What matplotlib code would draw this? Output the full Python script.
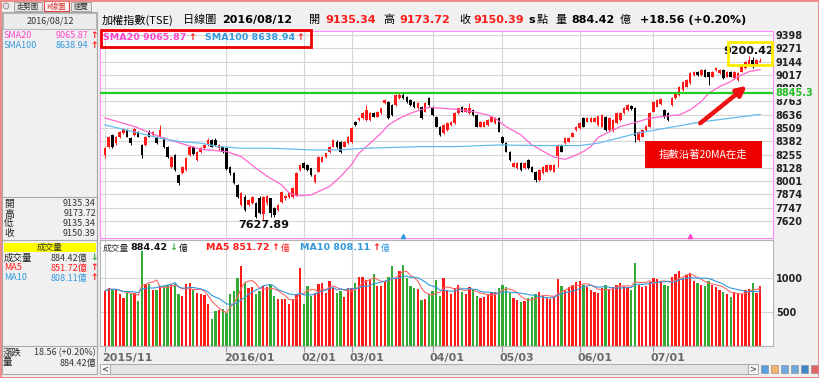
import numpy as np
import pandas as pd
import matplotlib
matplotlib.use("Agg")
import matplotlib.pyplot as plt
import matplotlib.transforms as mtransforms
from matplotlib.patches import Rectangle, FancyArrowPatch

CJK = ['Noto Sans CJK TC', 'DejaVu Sans']
NARROW = ['Liberation Sans Narrow', 'Noto Sans CJK TC', 'DejaVu Sans']
plt.rcParams['font.family'] = ['DejaVu Sans', 'Noto Sans CJK TC']

W, H = 820, 378

# ---- daily candles, 2015/11 .. 2016/08/12 ----
opens = [8252, 8330, 8443, 8364, 8427, 8459, 8491, 8411, 8443, 8475,
         8348, 8348, 8475, 8443, 8427, 8427, 8411, 8332, 8141, 8252,
         8061, 8077, 8109, 8252, 8332, 8205, 8284, 8316, 8348, 8396,
         8396, 8316, 8332, 8316, 8141, 8077, 7966, 7775, 7854, 7775,
         7791, 7791, 7840, 7690, 7790, 7838, 7743, 7727, 7806, 7838,
         7854, 7854, 7870, 8109, 8172, 8156, 8124, 7990, 8093, 8188,
         8236, 8284, 8331, 8380, 8379, 8331, 8363, 8379, 8570, 8586,
         8602, 8590, 8586, 8650, 8618, 8650, 8745, 8761, 8729, 8729,
         8793, 8825, 8809, 8777, 8761, 8697, 8713, 8666, 8793, 8713,
         8618, 8522, 8459, 8491, 8538, 8554, 8650, 8713, 8666, 8650,
         8682, 8634, 8522, 8522, 8538, 8570, 8554, 8602, 8427, 8363,
         8284, 8140, 8124, 8172, 8124, 8204, 8140, 8093, 8013, 8077,
         8093, 8109, 8093, 8240, 8347, 8363, 8379, 8427, 8491, 8506,
         8602, 8570, 8570, 8570, 8540, 8523, 8618, 8491, 8491, 8555,
         8587, 8650, 8682, 8720, 8698, 8396, 8427, 8490, 8523, 8666,
         8714, 8740, 8682, 8650, 8730, 8794, 8825, 8873, 8905, 8937,
         9016, 9048, 9016, 9064, 9040, 9000, 9064, 9032, 9064, 9000,
         9048, 8984, 8969, 9048, 9080, 9112, 9160, 9112, 9135.34]
closes = [8316, 8420, 8332, 8427, 8475, 8497, 8427, 8364, 8497, 8427,
          8252, 8427, 8427, 8475, 8364, 8490, 8332, 8236, 8236, 8109,
          7982, 8141, 8220, 8332, 8260, 8284, 8316, 8348, 8396, 8332,
          8348, 8348, 8284, 8120, 8077, 7982, 7854, 7886, 7727, 7823,
          7854, 7663, 7700, 7850, 7860, 7695, 7680, 7774, 7902, 7860,
          7886, 7934, 8077, 8156, 8124, 8109, 8061, 8061, 8236, 8236,
          8268, 8331, 8395, 8330, 8284, 8379, 8427, 8506, 8538, 8602,
          8650, 8680, 8650, 8618, 8666, 8697, 8777, 8602, 8634, 8825,
          8825, 8793, 8761, 8729, 8713, 8745, 8602, 8745, 8729, 8634,
          8522, 8443, 8538, 8554, 8570, 8650, 8697, 8666, 8697, 8697,
          8634, 8522, 8570, 8570, 8586, 8618, 8602, 8475, 8363, 8284,
          8204, 8172, 8172, 8109, 8172, 8124, 8093, 8013, 8109, 8140,
          8156, 8156, 8156, 8347, 8284, 8411, 8411, 8459, 8522, 8554,
          8522, 8602, 8602, 8602, 8620, 8634, 8491, 8603, 8587, 8650,
          8650, 8698, 8730, 8690, 8430, 8475, 8491, 8530, 8650, 8762,
          8778, 8790, 8618, 8590, 8794, 8841, 8905, 8953, 8969, 9032,
          9048, 9016, 9064, 9000, 9000, 9048, 9080, 9064, 8984, 9048,
          9000, 9048, 9032, 9112, 9144, 9160, 9100, 9160, 9150.39]
highs = [8330, 8430, 8455, 8435, 8485, 8510, 8500, 8420, 8505, 8485,
         8360, 8435, 8490, 8485, 8435, 8539, 8420, 8340, 8245, 8260,
         8070, 8150, 8230, 8340, 8340, 8290, 8325, 8360, 8410, 8405,
         8410, 8355, 8340, 8320, 8150, 8085, 7975, 7895, 7865, 7835,
         7862, 7800, 7860, 7860, 7870, 7845, 7750, 7785, 7910, 7870,
         7895, 7945, 8085, 8165, 8180, 8165, 8130, 8070, 8245, 8245,
         8275, 8340, 8405, 8390, 8385, 8385, 8435, 8515, 8578, 8610,
         8660, 8729, 8660, 8658, 8675, 8705, 8785, 8770, 8737, 8833,
         8850, 8850, 8817, 8785, 8770, 8753, 8720, 8753, 8809, 8720,
         8625, 8530, 8545, 8562, 8578, 8658, 8705, 8721, 8705, 8745,
         8690, 8642, 8578, 8578, 8594, 8626, 8610, 8610, 8435, 8371,
         8292, 8180, 8180, 8180, 8180, 8212, 8148, 8101, 8117, 8148,
         8164, 8164, 8164, 8355, 8355, 8419, 8419, 8467, 8530, 8562,
         8610, 8610, 8610, 8610, 8628, 8642, 8626, 8611, 8595, 8658,
         8658, 8706, 8738, 8728, 8706, 8483, 8499, 8538, 8658, 8770,
         8786, 8798, 8690, 8658, 8802, 8849, 8913, 8961, 8977, 9040,
         9056, 9056, 9072, 9072, 9048, 9056, 9088, 9072, 9072, 9056,
         9056, 9056, 9040, 9120, 9152, 9200.42, 9185, 9168, 9173.72]
lows = [8220, 8320, 8320, 8350, 8415, 8450, 8420, 8350, 8435, 8420,
        8225, 8340, 8420, 8435, 8355, 8420, 8320, 8225, 8130, 8100,
        7966, 8065, 8100, 8245, 8250, 8190, 8275, 8305, 8340, 8325,
        8340, 8300, 8270, 8110, 8060, 7970, 7840, 7760, 7715, 7765,
        7780, 7650, 7690, 7627.89, 7775, 7663, 7663, 7715, 7795, 7825,
        7840, 7845, 7860, 8100, 8115, 8100, 8050, 7981, 8085, 8180,
        8225, 8275, 8325, 8320, 8275, 8325, 8355, 8370, 8530, 8578,
        8595, 8580, 8578, 8610, 8610, 8642, 8738, 8595, 8625, 8720,
        8785, 8785, 8752, 8720, 8705, 8690, 8595, 8658, 8720, 8625,
        8515, 8435, 8450, 8483, 8530, 8546, 8642, 8658, 8658, 8642,
        8626, 8514, 8514, 8514, 8530, 8562, 8546, 8467, 8355, 8276,
        8196, 8132, 8116, 8101, 8116, 8116, 8085, 7997, 8005, 8069,
        8085, 8101, 8085, 8140, 8276, 8355, 8371, 8419, 8483, 8498,
        8514, 8562, 8562, 8562, 8532, 8515, 8483, 8483, 8475, 8547,
        8579, 8642, 8674, 8682, 8380, 8388, 8419, 8482, 8515, 8658,
        8706, 8732, 8603, 8580, 8722, 8786, 8817, 8865, 8897, 8929,
        9008, 9008, 9008, 8992, 8921, 8992, 9056, 9024, 8976, 8992,
        8992, 8976, 8961, 9040, 9072, 9104, 9080, 9104, 9135.34]
volumes = [809, 858, 833, 833, 760, 711, 809, 769, 784, 662,
           1397, 907, 907, 818, 818, 882, 882, 892, 907, 907,
           760, 735, 907, 921, 818, 774, 769, 745, 613, 392,
           515, 524, 539, 490, 769, 809, 995, 1176, 921, 858,
           867, 769, 809, 882, 872, 897, 735, 686, 686, 686,
           622, 686, 760, 1142, 622, 882, 735, 784, 907, 921,
           784, 956, 848, 784, 809, 720, 848, 848, 921, 1014,
           1014, 965, 965, 1063, 882, 882, 956, 1014, 1176, 1005,
           1102, 1191, 1005, 882, 858, 833, 671, 686, 760, 809,
           965, 735, 1005, 820, 760, 850, 900, 800, 760, 870,
           820, 740, 700, 720, 760, 800, 790, 850, 900, 860,
           780, 700, 680, 640, 660, 700, 720, 760, 800, 730,
           700, 690, 720, 980, 880, 820, 860, 900, 940, 960,
           900, 870, 820, 800, 780, 850, 900, 820, 860, 900,
           930, 880, 860, 820, 1220, 900, 860, 880, 940, 1000,
           980, 960, 900, 880, 1020, 1060, 1100, 1000, 1050, 1080,
           960, 920, 900, 880, 960, 900, 860, 820, 800, 760,
           720, 800, 770, 770, 820, 840, 930, 780, 884.42]

# moving averages (day index, value)
sma20_idx = [0, 8, 16, 26, 33, 37, 41, 44, 48, 50, 52, 56, 58, 61, 64, 67, 69,
             72, 75, 77, 80, 83, 86, 88, 91, 96, 100, 104, 106, 109, 113, 116,
             120, 122, 125, 127, 130, 132, 134, 140, 145, 148, 153, 156, 159,
             162, 164, 167, 170, 172, 175, 178]
sma20_val = [8605, 8523, 8411, 8306, 8284, 8236, 8125, 8050, 7965, 7890, 7860,
             7870, 7902, 7950, 8045, 8160, 8268, 8363, 8459, 8538, 8602, 8650,
             8685, 8705, 8700, 8685, 8666, 8634, 8602, 8522, 8443, 8347, 8268,
             8230, 8210, 8236, 8284, 8331, 8420, 8523, 8571, 8603, 8625, 8634,
             8682, 8762, 8841, 8905, 8953, 9000, 9048, 9066]
sma100_idx = [0, 15, 20, 26, 31, 37, 45, 56, 64, 70, 86, 95, 107, 118, 129,
              134, 145, 162, 178]
sma100_val = [8539, 8411, 8380, 8364, 8332, 8316, 8316, 8300, 8300, 8315,
              8331, 8331, 8347, 8341, 8341, 8364, 8462, 8567, 8639]

month_idx = [0, 33, 54, 67, 89, 108, 129, 149]
month_lbl = ['2015/11', '2016/01', '02/01', '03/01', '04/01', '05/03', '06/01', '07/01']
price_ticks = [9398, 9271, 9144, 9017, 8890, 8763, 8636, 8509, 8382, 8255,
               8128, 8001, 7874, 7747, 7620]
vol_ticks = [500, 1000]
support = 8845.3
low_idx, low_val = 43, 7627.89
high_idx, high_val = 175, 9200.42
event_idx = [81, 159]
event_col = ['#3399dd', '#ff44cc']

day_open, day_high, day_low, day_close = 9135.34, 9173.72, 9135.34, 9150.39
day_vol, vol_ma5, vol_ma10 = 884.42, 851.72, 808.11
sma20_last, sma100_last = 9065.87, 8638.94
change, change_pct = 18.56, 0.20

RED = '#ff1a1a'
GREEN = '#33aa33'
PINK = '#ff44cc'
BLUE = '#3399dd'

fig = plt.figure(figsize=(W / 100, H / 100), dpi=100, facecolor='#f0f0f0')
renderer = fig.canvas.get_renderer()


def pax(x0, y0, x1, y1, **kw):
    return fig.add_axes([x0 / W, 1 - y1 / H, (x1 - x0) / W, (y1 - y0) / H], **kw)


bg = fig.add_axes([0, 0, 1, 1], zorder=-5)
bg.set_xlim(0, W); bg.set_ylim(H, 0); bg.axis('off')
ov = fig.add_axes([0, 0, 1, 1], zorder=10)
ov.set_xlim(0, W); ov.set_ylim(H, 0); ov.axis('off')

ax = pax(100, 31, 773, 238)
axv = pax(100, 240, 773, 346)

# ---- price panel ----
x = np.arange(len(closes))
o, hi, lo, c = map(np.array, (opens, highs, lows, closes))
up = c >= o
col = np.where(up, RED, '#000000')
ax.vlines(x, lo, hi, colors=col, lw=0.7, zorder=3)
ax.bar(x, np.maximum(np.abs(c - o), 4), bottom=np.minimum(o, c), width=0.7,
       color=col, lw=0, zorder=4)
ax.plot(sma20_idx, sma20_val, color='#ff66cc', lw=0.9, zorder=5)
ax.plot(sma100_idx, sma100_val, color='#66bbee', lw=0.9, zorder=5)
ax.axhline(support, color='#22cc22', lw=1.6, zorder=6)

xmin, xmax = -1.36, 181.5
ax.set_xlim(xmin, xmax)
ax.set_ylim(7458, 9436)
ax.set_yticks(price_ticks)
ax.set_yticklabels([str(t) for t in price_ticks], fontsize=7, fontweight='bold', color='#222222')
ax.yaxis.tick_right()
ax.tick_params(axis='y', length=0, pad=2)
ax.set_xticks(month_idx)
ax.tick_params(axis='x', length=0, labelbottom=False)
ax.grid(True, color='#d6d6d6', lw=0.8)
ax.set_axisbelow(True)
for s in ax.spines.values():
    s.set_color('#ff88ff')

ytr = mtransforms.blended_transform_factory(ax.transAxes, ax.transData)
ax.text(1.003, support, f'{support}', transform=ytr, color='#22bb22', fontsize=7,
        fontweight='bold', va='center', ha='left',
        bbox=dict(fc='#f0f0f0', ec='none', pad=0.6))
ax.text(low_idx, low_val, f'{low_val:.2f}', ha='center', va='top', fontsize=8,
        fontweight='bold', color='#111111', zorder=7)
ax.text(high_idx, high_val, f'{high_val:.2f}', ha='center', va='bottom', fontsize=8,
        fontweight='bold', color='#111111', zorder=7)
xtr = mtransforms.blended_transform_factory(ax.transData, ax.transAxes)
for ei, ec in zip(event_idx, event_col):
    ax.plot([ei], [0.012], marker='^', ms=3, color=ec, transform=xtr, clip_on=False, zorder=6)

# ---- volume panel ----
vol = pd.Series(volumes)
axv.bar(x, vol, width=0.62, color=np.where(up, RED, GREEN), lw=0, zorder=3)
axv.plot(x, vol.rolling(5, min_periods=1).mean(), color='#ff6666', lw=0.8, zorder=4)
axv.plot(x, vol.rolling(10, min_periods=1).mean(), color=BLUE, lw=0.8, zorder=4)
axv.set_xlim(xmin, xmax)
axv.set_ylim(0, 1558)
axv.set_yticks(vol_ticks)
axv.set_yticklabels([str(t) for t in vol_ticks], fontsize=7, fontweight='bold', color='#222222')
axv.yaxis.tick_right()
axv.tick_params(axis='y', length=0, pad=2)
axv.set_xticks(month_idx)
axv.tick_params(axis='x', length=4, color='#999999', labelbottom=False)
axv.grid(True, color='#d6d6d6', lw=0.8)
axv.set_axisbelow(True)
for s in axv.spines.values():
    s.set_color('#b4b4b4')
vtr = mtransforms.blended_transform_factory(axv.transData, axv.transAxes)
for mi, ml in zip(month_idx, month_lbl):
    axv.text(mi - 0.7, -0.11, ml, transform=vtr, ha='left', va='center', fontsize=8,
             fontweight='bold', color='#6a6a6a')


# ---- overlay texts & annotations (pixel coords) ----
def t(xp, yp, s, cjk=False, **kw):
    kw.setdefault('va', 'center')
    if cjk and 'family' not in kw:
        kw['family'] = CJK
    return ov.text(xp, yp, s, **kw)


def run(xp, yp, pieces, gap=1.5):
    # pieces of text laid one after another, each with its own style
    for s, kw in pieces:
        tx = t(xp, yp, s, **kw)
        bb = tx.get_window_extent(renderer)
        xp += bb.width + gap
    return xp


ty = 20
t(102, ty, '加權指數(TSE)', cjk=True, fontsize=8)
t(183, ty, '日線圖', cjk=True, fontsize=8)
t(222, ty, '2016/08/12', fontsize=8, fontweight='bold')
t(309, ty, '開', cjk=True, fontsize=8)
t(325, ty, f'{day_open:.2f}', fontsize=8, fontweight='bold', color=RED)
t(383, ty, '高', cjk=True, fontsize=8)
t(399, ty, f'{day_high:.2f}', fontsize=8, fontweight='bold', color=RED)
t(459, ty, '收', cjk=True, fontsize=8)
t(473, ty, f'{day_close:.2f}', fontsize=8, fontweight='bold', color=RED)
t(528, ty, 's', fontsize=8, fontweight='bold')
t(537, ty, '點', cjk=True, fontsize=8)
t(555, ty, '量', cjk=True, fontsize=8)
t(571, ty, f'{day_vol:.2f}', fontsize=8, fontweight='bold')
t(620, ty, '億', cjk=True, fontsize=8)
t(640, ty, f'+{change:.2f} (+{change_pct:.2f}%)', fontsize=8, fontweight='bold')

sb = dict(fontsize=6.8, fontweight='bold')
run(103, 38, [(f'SMA20 {sma20_last:.2f}', dict(color=PINK, **sb)),
              ('↑', dict(color=RED, **sb))])
run(205, 38, [(f'SMA100 {sma100_last:.2f}', dict(color=BLUE, **sb)),
              ('↑', dict(color=RED, **sb))])
ov.add_patch(Rectangle((101, 30), 210, 17, fill=False, ec='#ee0000', lw=2))

ov.add_patch(Rectangle((728, 42), 44, 23, fill=False, ec='#ffee00', lw=2))
ov.add_patch(FancyArrowPatch((698, 125), (749, 84), arrowstyle='-|>', mutation_scale=14,
                             lw=3.2, color='#ee1111'))
ov.add_patch(Rectangle((645, 141), 117, 27, fc='#ee0000', ec='none'))
t(703, 155, '指數沿著20MA在走', cjk=True, fontsize=7.5, color='white', ha='center')

vy = 248
vb = dict(fontsize=6.8, fontweight='bold')
vc = dict(fontsize=6.3, family=CJK)
run(103, vy, [('成交量', dict(color='#333333', **vc)),
              (f'{day_vol:.2f}', dict(color='#111111', **vb)),
              ('↓', dict(color=GREEN, **vb)),
              ('億', dict(color='#111111', **vc))])
run(206, vy, [(f'MA5 {vol_ma5:.2f}', dict(color=RED, **vb)),
              ('↑', dict(color=RED, **vb)),
              ('億', dict(color=RED, **vc))])
run(300, vy, [(f'MA10 {vol_ma10:.2f}', dict(color=BLUE, **vb)),
              ('↑', dict(color=RED, **vb)),
              ('億', dict(color=BLUE, **vc))])

# ---- left info panel ----
bg.add_patch(Rectangle((2, 12), 95, 362, fc='#f0f0f0', ec='#a8a8a8', lw=0.8))
bg.add_patch(Rectangle((3, 13), 93, 16, fc='#ebebeb', ec='#b8b8b8', lw=0.8))
for yy in (197, 240, 346):
    bg.plot([3, 97], [yy, yy], color='#a8a8a8', lw=0.8)
bg.add_patch(Rectangle((4, 243), 92, 8.5, fc='#ffff00', ec='none'))
bg.plot([97.5, 97.5], [12, 374], color='#a8a8a8', lw=0.8)

fs = 6.5
nk = dict(fontsize=fs, family=NARROW)
t(50, 21, '2016/08/12', ha='center', color='#333333', **nk)
t(4, 35, 'SMA20', color=PINK, **nk)
t(88, 35, f'{sma20_last:.2f}', color=PINK, ha='right', **nk)
t(90, 35, '↑', fontsize=fs, color=RED, fontweight='bold')
t(4, 45, 'SMA100', color=BLUE, **nk)
t(88, 45, f'{sma100_last:.2f}', color=BLUE, ha='right', **nk)
t(90, 45, '↑', fontsize=fs, color=RED, fontweight='bold')

info_lbl = ['開', '高', '低', '收']
info_val = [day_open, day_high, day_low, day_close]
for k, (lb, vv) in enumerate(zip(info_lbl, info_val)):
    yy = 204 + k * 9.7
    t(4, yy, lb, cjk=True, fontsize=fs + 0.5, color='#222222')
    t(96, yy, f'{vv:.2f}', ha='right', color='#333333', **nk)

t(50, 247, '成交量', cjk=True, fontsize=fs - 0.3, ha='center', color='#333333')
t(4, 258, '成交量', cjk=True, fontsize=fs + 0.3, color='#222222')
t(87, 258, f'{day_vol:.2f}億', ha='right', color='#333333', **nk)
t(90, 258, '↓', fontsize=fs, color=GREEN, fontweight='bold')
t(4, 268, 'MA5', color=RED, **nk)
t(87, 268, f'{vol_ma5:.2f}億', ha='right', color=RED, **nk)
t(90, 268, '↑', fontsize=fs, color=RED, fontweight='bold')
t(4, 278, 'MA10', color=BLUE, **nk)
t(87, 278, f'{vol_ma10:.2f}億', ha='right', color=BLUE, **nk)
t(90, 278, '↑', fontsize=fs, color=RED, fontweight='bold')

t(3, 353, '漲跌', cjk=True, fontsize=fs + 0.3, color='#222222')
t(96, 353, f'{change:.2f} (+{change_pct:.2f}%)', ha='right', color='#333333', **nk)
t(3, 363, '量', cjk=True, fontsize=fs + 0.3, color='#222222')
t(96, 363, f'{day_vol:.2f}億', ha='right', color='#333333', **nk)

# ---- tabs, scroll bar, frame ----
bg.add_patch(plt.Circle((6, 6), 3, fc='#e0e0e0', ec='#888888', lw=0.6))
bg.add_patch(Rectangle((14, 1.5), 28, 9.5, fc='#e8e8e8', ec='#999999', lw=0.6))
t(28, 6.5, '走勢圖', cjk=True, fontsize=5.3, ha='center', color='#333333')
bg.add_patch(Rectangle((44, 1), 25, 10, fc='#fff4f4', ec='#e04040', lw=0.8))
t(56.5, 6.5, 'K線圖', cjk=True, fontsize=5.3, ha='center', color='#cc3333')
bg.add_patch(Rectangle((71, 1.5), 20, 9.5, fc='#e8e8e8', ec='#999999', lw=0.6))
t(81, 6.5, '速覽', cjk=True, fontsize=5.3, ha='center', color='#333333')

bg.add_patch(Rectangle((100, 364), 658, 10, fc='#e4e4e4', ec='#aaaaaa', lw=0.7))
bg.add_patch(Rectangle((100, 364), 10, 10, fc='#f4f4f4', ec='#aaaaaa', lw=0.7))
bg.add_patch(Rectangle((748, 364), 10, 10, fc='#f4f4f4', ec='#aaaaaa', lw=0.7))
t(105, 369, '<', fontsize=6, ha='center', color='#333333')
t(753, 369, '>', fontsize=6, ha='center', color='#333333')
icon_x = [761, 771, 781, 791, 801, 811]
icon_c = ['#5aa0e0', '#f6b26b', '#6fa8dc', '#6fa8dc', '#3d85c6', '#e06666']
for ix, ic in zip(icon_x, icon_c):
    bg.add_patch(Rectangle((ix, 365), 7, 8, fc=ic, ec='#888888', lw=0.4))

bg.add_patch(Rectangle((0.5, 0.5), 819, 377, fill=False, ec='#ee7777', lw=1.2))

fig.savefig('out.png', dpi=100, facecolor=fig.get_facecolor())
